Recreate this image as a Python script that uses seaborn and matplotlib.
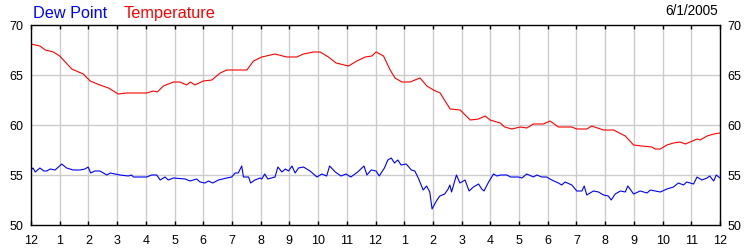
import matplotlib
matplotlib.use("Agg")
import matplotlib.pyplot as plt
import seaborn as sns
import pandas as pd

# ---- data (hours since midnight, degrees F) ----
temp_hours = [0.0, 0.31, 0.5, 0.78, 1.0, 1.42, 1.82, 2.06, 2.4, 2.7, 3.04, 3.33, 4.03, 4.26, 4.4,
              4.61, 4.96, 5.19, 5.42, 5.55, 5.71, 6.0, 6.3, 6.59, 6.82, 7.52, 7.75, 8.04, 8.5,
              8.91, 9.26, 9.49, 9.84, 10.07, 10.36, 10.63, 11.06, 11.35, 11.64, 11.87, 12.02,
              12.28, 12.51, 12.68, 12.92, 13.2, 13.55, 13.79, 14.02, 14.25, 14.6, 14.95, 15.3,
              15.59, 15.82, 15.99, 16.34, 16.5, 16.75, 17.04, 17.27, 17.5, 17.85, 18.08, 18.37,
              18.84, 19.01, 19.36, 19.53, 19.94, 20.29, 20.7, 20.99, 21.28, 21.63, 21.74, 21.92,
              22.15, 22.38, 22.61, 22.79, 22.96, 23.2, 23.31, 23.55, 23.78, 24.0]
temp_values = [68.1, 67.9, 67.5, 67.3, 66.9, 65.6, 65.1, 64.4, 64.0, 63.7, 63.1, 63.2, 63.2, 63.4, 63.3,
               63.9, 64.3, 64.3, 64.0, 64.3, 64.0, 64.4, 64.5, 65.2, 65.5, 65.5, 66.4, 66.8, 67.1,
               66.8, 66.8, 67.1, 67.3, 67.3, 66.8, 66.2, 65.9, 66.4, 66.8, 66.9, 67.3,
               66.9, 65.5, 64.7, 64.3, 64.3, 64.7, 63.9, 63.5, 63.2, 61.6, 61.5, 60.5,
               60.6, 60.9, 60.5, 60.2, 59.8, 59.6, 59.8, 59.7, 60.1, 60.1, 60.4, 59.8,
               59.8, 59.6, 59.6, 59.9, 59.5, 59.5, 58.9, 58.0, 57.9, 57.8, 57.6, 57.6,
               58.0, 58.2, 58.3, 58.1, 58.3, 58.6, 58.5, 58.9, 59.1, 59.2]

dew_hours = [0.0, 0.07, 0.15, 0.31, 0.45, 0.55, 0.67, 0.84, 1.07, 1.24, 1.47, 1.71, 1.88, 1.99,
             2.08, 2.22, 2.4, 2.64, 2.76, 2.93, 3.1, 3.39, 3.5, 3.57, 4.03, 4.2, 4.38, 4.5,
             4.67, 4.78, 4.96, 5.37, 5.54, 5.77, 5.89, 6.06, 6.18, 6.33, 6.53, 6.82, 6.99,
             7.11, 7.22, 7.34, 7.4, 7.58, 7.65, 7.8, 7.98, 8.04, 8.14, 8.25, 8.5, 8.6, 8.74,
             8.86, 8.97, 9.09, 9.2, 9.32, 9.49, 9.72, 9.96, 10.13, 10.3, 10.4, 10.6, 10.8,
             10.97, 11.14, 11.38, 11.6, 11.7, 11.85, 12.02, 12.13, 12.31, 12.43, 12.55, 12.66,
             12.78, 12.89, 13.07, 13.25, 13.37, 13.49, 13.66, 13.78, 13.89, 13.97, 14.12,
             14.24, 14.41, 14.53, 14.59, 14.65, 14.82, 14.94, 15.12, 15.26, 15.41, 15.59,
             15.7, 15.78, 15.94, 16.11, 16.23, 16.35, 16.58, 16.7, 16.98, 17.1, 17.27, 17.5,
             17.62, 17.79, 17.96, 18.14, 18.37, 18.49, 18.6, 18.84, 19.01, 19.19, 19.27,
             19.36, 19.59, 19.77, 19.94, 20.11, 20.21, 20.35, 20.53, 20.7, 20.79, 20.99,
             21.22, 21.46, 21.57, 21.92, 22.15, 22.38, 22.55, 22.73, 22.84, 23.08, 23.2,
             23.37, 23.55, 23.64, 23.78, 23.87, 24.0]
dew_values = [55.5, 55.7, 55.3, 55.7, 55.4, 55.4, 55.6, 55.5, 56.1, 55.7, 55.5, 55.5, 55.6, 55.8,
              55.2, 55.4, 55.4, 55.0, 55.2, 55.1, 55.0, 54.9, 55.0, 54.8, 54.8, 55.0, 55.0, 54.5,
              54.8, 54.5, 54.7, 54.6, 54.4, 54.6, 54.3, 54.2, 54.4, 54.2, 54.5, 54.7, 54.8,
              55.2, 55.2, 55.9, 54.8, 54.8, 54.2, 54.5, 54.7, 54.6, 55.1, 54.6, 54.8, 55.8, 55.3,
              55.6, 55.4, 55.9, 55.2, 55.7, 55.8, 55.4, 54.8, 55.1, 54.9, 55.9, 55.3, 54.9,
              55.1, 54.8, 55.3, 55.9, 55.0, 55.5, 55.4, 54.9, 55.7, 56.5, 56.7, 56.2,
              56.5, 56.0, 56.1, 55.5, 55.4, 54.7, 53.5, 53.9, 53.3, 51.6, 52.4,
              52.9, 53.1, 53.6, 54.0, 53.3, 55.0, 54.2, 54.5, 53.4, 53.8, 54.1,
              53.6, 53.4, 54.3, 55.1, 54.9, 55.0, 55.0, 54.8, 54.8, 54.7, 55.1, 54.8,
              55.0, 54.8, 54.8, 54.5, 54.2, 54.0, 54.3, 54.0, 53.4, 53.4, 53.9,
              53.0, 53.4, 53.3, 53.0, 52.9, 52.5, 53.1, 53.4, 53.3, 53.9, 53.1,
              53.4, 53.2, 53.5, 53.3, 53.6, 53.8, 54.2, 54.0, 54.3, 54.1, 54.8,
              54.5, 54.7, 54.9, 54.4, 55.0, 54.7]

tick_hours = list(range(0, 25))
tick_labels = ["12", "1", "2", "3", "4", "5", "6", "7", "8", "9", "10", "11",
               "12", "1", "2", "3", "4", "5", "6", "7", "8", "9", "10", "11", "12"]
y_ticks = [50, 55, 60, 65, 70]
date_label = "6/1/2005"

# ---- build frame ----
df = pd.concat([
    pd.DataFrame({"hour": dew_hours, "value": dew_values, "series": "Dew Point"}),
    pd.DataFrame({"hour": temp_hours, "value": temp_values, "series": "Temperature"}),
], ignore_index=True)

sns.set_style("white")
plt.rcParams["font.family"] = ["Liberation Sans", "DejaVu Sans"]

fig = plt.figure(figsize=(7.5, 2.5), dpi=100)
ax = fig.add_axes([31 / 750, 25 / 250, 689 / 750, 200 / 250])

sns.lineplot(data=df, x="hour", y="value", hue="series",
             palette={"Dew Point": "#0000ff", "Temperature": "#ff0000"},
             linewidth=0.8, legend=False, ax=ax, sort=False, estimator=None)

ax.set_xlim(0, 24)
ax.set_ylim(50, 70)
ax.set_xticks(tick_hours)
ax.set_xticklabels(tick_labels)
ax.set_yticks(y_ticks)
ax.set_yticklabels([str(v) for v in y_ticks])
ax.set_xlabel("")
ax.set_ylabel("")

# grid
for h in tick_hours[1:-1]:
    ax.axvline(h, color="#cccccc", linewidth=1.0, zorder=0)
for v in y_ticks[1:-1]:
    ax.axhline(v, color="#cccccc", linewidth=1.0, zorder=0)

ax.tick_params(axis="x", direction="in", length=3, width=1, color="black",
               top=True, bottom=True, labelsize=9, pad=7.5, labelcolor="black")
ax.tick_params(axis="y", length=0, labelsize=9, pad=5.5, left=True, right=True,
               labelleft=True, labelright=True, labelcolor="black")
for s in ax.spines.values():
    s.set_color("black")
    s.set_linewidth(1.0)
    s.set_visible(True)

fig.text(33 / 750, 1 - 18 / 250, "Dew Point", color="#0000ff", fontsize=11.7,
         ha="left", va="baseline")
fig.text(124 / 750, 1 - 18 / 250, "Temperature", color="#ff0000", fontsize=11.7,
         ha="left", va="baseline")
fig.text(718 / 750, 1 - 15 / 250, date_label, color="black", fontsize=9.8,
         ha="right", va="baseline")

fig.savefig("out.png", dpi=100, facecolor="white")
